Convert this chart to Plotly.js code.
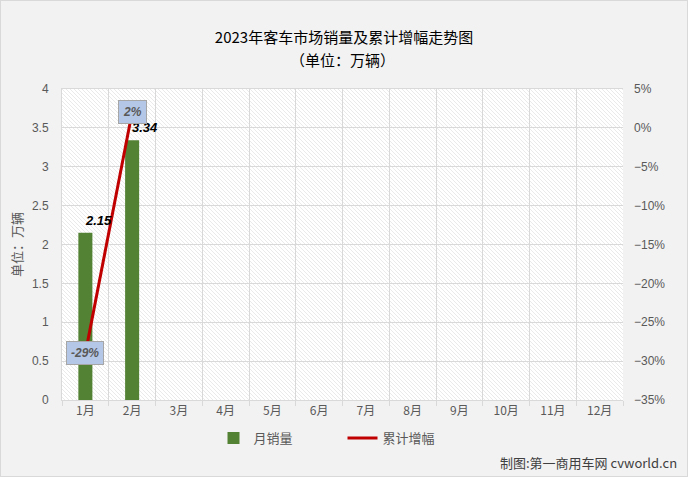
<!DOCTYPE html>
<html>
<head>
<meta charset="utf-8">
<script src="https://cdn.plot.ly/plotly-3.0.1.min.js"></script>
<style>
  html, body { margin: 0; padding: 0; background: #f2f2f2; }
  #chart { width: 686px; height: 475px; border: 1px solid #d9d9d9; }
</style>
</head>
<body>
<div id="chart"></div>
<script>
const months = ["1月", "2月", "3月", "4月", "5月", "6月", "7月", "8月", "9月", "10月", "11月", "12月"];
const salesMonths = ["1月", "2月"];
const sales = [2.15, 3.34];          // 万辆
const growth = [-0.29, 0.02];        // 累计增幅
const growthLabels = ["-29%", "2%"];

const CJK = '"Noto Sans CJK SC", "Noto Sans", sans-serif';

// diagonal hatch for the plot area
const hatch =
  '<svg xmlns="http://www.w3.org/2000/svg" width="561" height="311">' +
  '<defs><pattern id="h" width="4" height="4" patternUnits="userSpaceOnUse">' +
  '<rect width="4" height="4" fill="#ffffff"/>' +
  '<path d="M-1,-1 L5,5 M-1,3 L1,5 M3,-1 L5,1" stroke="#e4e4e4" stroke-width="0.8"/>' +
  '</pattern></defs><rect width="561" height="311" fill="url(#h)"/></svg>';

var bars = {
  x: salesMonths,
  y: sales,
  type: "bar",
  name: "月销量",
  marker: { color: "#548235" },
  width: 0.3,
  hoverinfo: "skip"
};

var line = {
  x: salesMonths,
  y: growth,
  yaxis: "y2",
  type: "scatter",
  mode: "lines",
  name: "累计增幅",
  line: { color: "#c00000", width: 3 },
  hoverinfo: "skip"
};

// bar value labels, set a little to the right of the bar like the original
var notes = sales.map((v, i) => ({
  x: salesMonths[i],
  y: v,
  yref: "y",
  text: "<b><i>" + v.toFixed(2) + "</i></b>",
  showarrow: false,
  xshift: 13,
  yshift: 3,
  yanchor: "bottom",
  font: { family: "Liberation Sans, Arial", size: 13, color: "#000" }
}));

growth.forEach((g, i) => notes.push({
  x: salesMonths[i],
  y: g,
  yref: "y2",
  text: "<b><i>" + growthLabels[i] + "</i></b>",
  showarrow: false,
  bgcolor: "#b4c7e7",
  bordercolor: "#a6a6a6",
  borderwidth: 1,
  borderpad: 4,
  font: { family: "Liberation Sans, Arial", size: 12, color: "#595959" }
}));

notes.push({
  xref: "paper", yref: "paper",
  x: 0.5, y: 1.096, xanchor: "center", yanchor: "middle",
  text: "（单位：万辆）",
  showarrow: false,
  font: { family: CJK, size: 15, color: "#000" }
});

notes.push({
  xref: "paper", yref: "paper",
  x: 1.1, y: -0.2, xanchor: "right", yanchor: "middle",
  text: "制图:第一商用车网 cvworld.cn",
  showarrow: false,
  font: { family: CJK, size: 13, color: "#404040" }
});

var layout = {
  width: 686,
  height: 475,
  margin: { l: 61, r: 64, t: 88, b: 76 },
  paper_bgcolor: "#f2f2f2",
  plot_bgcolor: "#ffffff",
  title: {
    text: "2023年客车市场销量及累计增幅走势图",
    x: 0.5, xanchor: "center",
    y: 0.922, yanchor: "middle",
    font: { family: CJK, size: 15, color: "#000" }
  },
  xaxis: {
    type: "category",
    categoryorder: "array",
    categoryarray: months,
    range: [-0.5, 11.5],
    tickson: "boundaries",
    ticks: "outside",
    ticklen: 5,
    tickcolor: "#d9d9d9",
    showgrid: true,
    gridcolor: "#d9d9d9",
    showline: true,
    linecolor: "#d9d9d9",
    mirror: true,
    tickfont: { family: CJK, size: 12, color: "#595959" },
    fixedrange: true
  },
  yaxis: {
    range: [0, 4],
    dtick: 0.5,
    showgrid: true,
    gridcolor: "#d9d9d9",
    zeroline: false,
    showline: true,
    linecolor: "#d9d9d9",
    ticks: "",
    ticklabelstandoff: 10,
    tickfont: { family: "Liberation Sans, Arial", size: 12, color: "#595959" },
    title: { text: "单位：万辆", standoff: 6, font: { family: CJK, size: 13, color: "#595959" } }
  },
  yaxis2: {
    overlaying: "y",
    side: "right",
    range: [-0.35, 0.05],
    dtick: 0.05,
    tickformat: ".0%",
    showgrid: false,
    zeroline: false,
    ticklabelstandoff: 10,
    tickfont: { family: "Liberation Sans, Arial", size: 12, color: "#595959" }
  },
  images: [{
    source: "data:image/svg+xml;charset=utf-8," + encodeURIComponent(hatch),
    xref: "paper", yref: "paper",
    x: 0, y: 1, sizex: 1, sizey: 1,
    xanchor: "left", yanchor: "top",
    sizing: "stretch",
    layer: "below"
  }],
  showlegend: true,
  legend: {
    orientation: "h",
    x: 0.5, xanchor: "center",
    y: -0.122, yanchor: "middle",
    entrywidth: 84,
    entrywidthmode: "pixels",
    bgcolor: "rgba(0,0,0,0)",
    font: { family: CJK, size: 13, color: "#595959" }
  },
  annotations: notes,
  bargap: 0.7
};

Plotly.newPlot("chart", [bars, line], layout, { staticPlot: true });
</script>
</body>
</html>
